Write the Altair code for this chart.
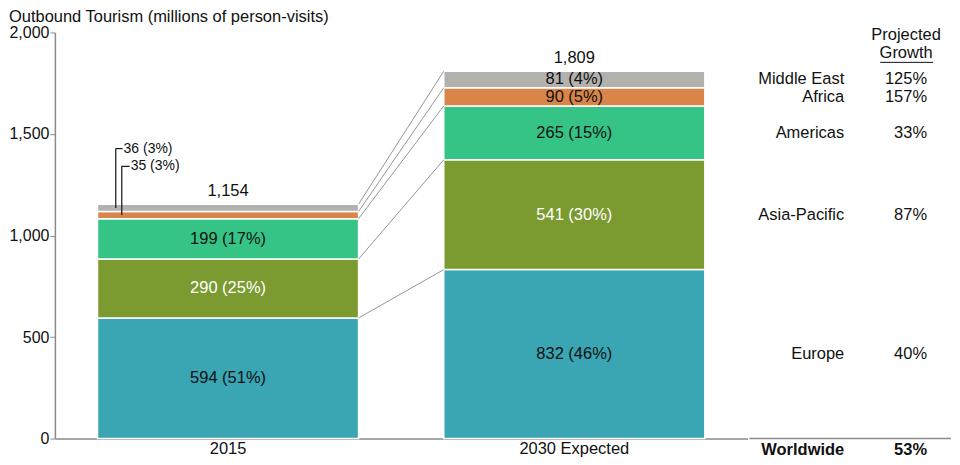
import altair as alt
import pandas as pd

# ---- data ----
regions = ["Europe", "Asia-Pacific", "Americas", "Africa", "Middle East"]
periods = ["2015", "2030 Expected"]
values_2015 = [594, 290, 199, 35, 36]
values_2030 = [832, 541, 265, 90, 81]
shares_2015 = [51, 25, 17, 3, 3]
shares_2030 = [46, 30, 15, 5, 4]
growth = ["40%", "87%", "33%", "157%", "125%"]
totals = [1154, 1809]
worldwide_label = "Worldwide"
worldwide_growth = "53%"
header_lines = ["Projected", "Growth"]
external_2015 = ["Africa", "Middle East"]  # labelled outside the 2015 bar

# ---- styles / layout ----
colors = ["#3AA5B3", "#7B9A30", "#35C486", "#D9854A", "#B3B1AE"]
label_colors = ["#111111", "#FFFFFF", "#111111", "#111111", "#111111"]
FONT = "Liberation Sans"
FS = 16.5
H = 407
W_MAIN = 694
W_TABLE = 204
# leader-label placement for the small 2015 segments (band fraction, data-unit lift)
leader = {
    "Middle East": {"line": 0.070, "text": 0.100, "lift": 292},
    "Africa": {"line": 0.093, "text": 0.127, "lift": 240},
}

rows = []
for period, vals, shares in [(periods[0], values_2015, shares_2015), (periods[1], values_2030, shares_2030)]:
    base = 0
    for r, v, s, c, lc in zip(regions, vals, shares, colors, label_colors):
        rows.append(dict(period=period, region=r, value=v, y0=base, y1=base + v,
                         mid=base + v / 2, label=f"{v} ({s}%)", color=c, lcolor=lc,
                         inside=not (period == periods[0] and r in external_2015)))
        base += v
df = pd.DataFrame(rows)

tot_df = pd.DataFrame({"period": periods, "total": totals,
                       "label": [f"{t:,}" for t in totals]})

d15 = df[df.period == periods[0]].reset_index(drop=True)
d30 = df[df.period == periods[1]].reset_index(drop=True)
lines_df = pd.DataFrame({"from": periods[0], "to": periods[1],
                         "y_from": d15.y1, "y_to": d30.y1})

ext = d15[~d15.inside].copy()
ext["label_y"] = [r.mid + leader[r.region]["lift"] for r in ext.itertuples()]

xscale = alt.Scale(domain=periods, paddingInner=0.246, paddingOuter=0.123)
yscale = alt.Scale(domain=[0, 2000], nice=False)

x_axis = alt.Axis(title=None, ticks=False, labelAngle=0, labelFontSize=FS,
                  labelColor="#111", domainColor="#8a8a8a", domainWidth=1.5,
                  labelPadding=2, labelFont=FONT)
y_axis = alt.Axis(title=None, values=[0, 500, 1000, 1500, 2000], format=",",
                  labelExpr="format(datum.value, ',')",
                  grid=False, labelFontSize=16, labelColor="#111",
                  tickColor="#8a8a8a", tickSize=5, domainColor="#8a8a8a",
                  domainWidth=1.5, labelFont=FONT, labelPadding=1)


def X(field, **kw):
    return alt.X(field, type="nominal", scale=xscale, axis=x_axis, sort=periods, **kw)


def Y(field):
    return alt.Y(field, type="quantitative", scale=yscale, axis=y_axis)


bars = alt.Chart(df).mark_bar(stroke="white", strokeWidth=1.5).encode(
    x=X("period"), y=Y("y0"), y2="y1:Q",
    color=alt.Color("color:N", scale=None),
)

inside_labels = alt.Chart(df[df.inside]).mark_text(fontSize=FS, font=FONT, baseline="middle").encode(
    x=X("period"), y=Y("mid"), text="label:N",
    color=alt.Color("lcolor:N", scale=None),
)

total_labels = alt.Chart(tot_df).mark_text(fontSize=FS, font=FONT, baseline="middle", dy=-13, color="#111").encode(
    x=X("period"), y=Y("total"), text="label:N",
)

connectors = alt.Chart(lines_df).mark_rule(color="#666666", strokeWidth=0.7).encode(
    x=X("from", bandPosition=1),
    x2=alt.X2("to:N", bandPosition=0),
    y=Y("y_from"),
    y2="y_to:Q",
)

leader_layers = []
for r in ext.itertuples():
    one = pd.DataFrame([dict(period=r.period, mid=r.mid, label_y=r.label_y, label=r.label)])
    p = leader[r.region]
    vline = alt.Chart(one).mark_rule(color="#111", strokeWidth=1.2).encode(
        x=X("period", bandPosition=p["line"]), y=Y("mid"), y2="label_y:Q",
    )
    hline = alt.Chart(one).mark_rule(color="#111", strokeWidth=1.2).encode(
        x=X("period", bandPosition=p["line"]),
        x2=alt.X2("period:N", bandPosition=p["text"] - 0.004),
        y=Y("label_y"),
    )
    txt = alt.Chart(one).mark_text(fontSize=14, font=FONT, align="left", baseline="middle", color="#111").encode(
        x=X("period", bandPosition=p["text"]), y=Y("label_y"), text="label:N",
    )
    leader_layers += [vline, hline, txt]

main = alt.layer(bars, connectors, inside_labels, total_labels, *leader_layers).properties(
    width=W_MAIN, height=H)

# ---- right-hand growth table ----
tab_df = pd.DataFrame({"region": regions, "mid": d30.mid, "growth": growth})
ty = alt.Y("mid:Q", scale=yscale, axis=None)
region_txt = alt.Chart(tab_df).mark_text(fontSize=FS, font=FONT, align="right", baseline="middle", color="#111").encode(
    x=alt.value(97), y=ty, text="region:N")
growth_txt = alt.Chart(tab_df).mark_text(fontSize=FS, font=FONT, align="right", baseline="middle", color="#111").encode(
    x=alt.value(180), y=ty, text="growth:N")

hdr1 = alt.Chart(pd.DataFrame({"t": [header_lines[0]]})).mark_text(
    fontSize=FS, font=FONT, align="center", baseline="middle", color="#111").encode(
    x=alt.value(159), y=alt.value(3), text="t:N")
hdr2 = alt.Chart(pd.DataFrame({"t": [header_lines[1]]})).mark_text(
    fontSize=FS, font=FONT, align="center", baseline="middle", color="#111").encode(
    x=alt.value(159), y=alt.value(21), text="t:N")
underline = alt.Chart(pd.DataFrame({"t": [header_lines[1]]})).mark_rule(color="#111", strokeWidth=1).encode(
    x=alt.value(133), x2=alt.value(186), y=alt.value(30))

ww_df = pd.DataFrame({"name": [worldwide_label], "g": [worldwide_growth]})
ww_name = alt.Chart(ww_df).mark_text(fontSize=FS, font=FONT, fontWeight="bold", align="right", baseline="middle", color="#111").encode(
    x=alt.value(97), y=alt.value(H + 11), text="name:N")
ww_g = alt.Chart(ww_df).mark_text(fontSize=FS, font=FONT, fontWeight="bold", align="right", baseline="middle", color="#111").encode(
    x=alt.value(180), y=alt.value(H + 11), text="g:N")
baseline_rule = alt.Chart(ww_df).mark_rule(color="#8a8a8a", strokeWidth=1.5).encode(
    x=alt.value(2), x2=alt.value(W_TABLE), y=alt.value(H))

table = alt.layer(region_txt, growth_txt, hdr1, hdr2, underline, ww_name, ww_g, baseline_rule).properties(
    width=W_TABLE, height=H)

chart = alt.hconcat(main, table, spacing=0).resolve_scale(y="independent").properties(
    title=alt.TitleParams("Outbound Tourism (millions of person-visits)", anchor="start",
                          frame="bounds", fontSize=16.5, fontWeight="normal", font=FONT,
                          color="#111", offset=-1),
    padding={"left": 0, "top": 0, "right": 0, "bottom": 0},
    background="white",
).configure(font=FONT, view=alt.ViewConfig(stroke="transparent", strokeWidth=0))

chart.save("out.html", embed_options={"renderer": "svg", "actions": False})
